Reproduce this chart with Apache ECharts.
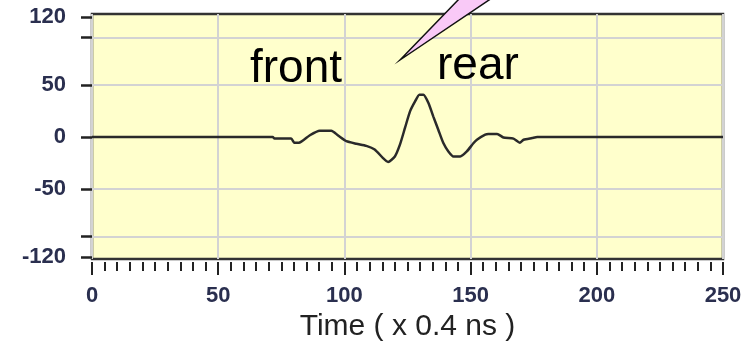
<!DOCTYPE html>
<html>
<head>
<meta charset="utf-8">
<script src="https://cdn.jsdelivr.net/npm/echarts@6/dist/echarts.min.js"></script>
<style>
  html, body { margin: 0; padding: 0; background: #fff; }
  #chart { width: 742px; height: 342px; }
</style>
</head>
<body>
<div id="chart"></div>
<script>
// signal
var times  = [0, 71.6, 72.3, 78.9, 80.2, 82, 86.2, 90.2, 94.8, 97.5, 100.8, 104.8, 108.7, 112, 115.4, 117.3,
              120, 122, 124, 126, 128, 129.7, 131.3, 133.3, 135.2, 137.2, 139.2, 141.2, 143.2, 145.9, 148.5,
              151.1, 152.5, 155.8, 157, 160.5, 163, 167, 169.5, 171, 174.4, 176.4, 250];
var values = [0, 0, -1.5, -1.5, -5.5, -5.5, 1.5, 6, 6, 1.5, -4, -6.5, -8.5, -12, -20.5, -24,
              -18.7, -7.4, 8.7, 24.7, 34.3, 40.8, 40.8, 32.8, 19.9, 7, -5.8, -13.9, -18.7, -18.7, -13.9,
              -6, -2.6, 2.2, 2.9, 2.9, -0.4, -1.6, -5.5, -2.6, -1, 0, 0];

// y axis: labelled ticks sit a bit inside the +-120 marks of the original
var yTickVals  = [-115.4, -96, -50, 0, 50, 96, 115.4];
var yLabelVals = [-115.4, -50, 0, 50, 115.4];
var yLabels    = ['-120', '-50', '0', '50', '120'];
var yGridVals  = [-96, -50, 50, 96];

var myChart = echarts.init(document.getElementById('chart'));

var pts = times.map(function (t, i) { return [t, values[i]]; });

var labelFont = {
    fontFamily: 'Liberation Sans, Arial, sans-serif',
    fontSize: 22,
    fontWeight: 'bold',
    color: '#2a2f4f'
};

var option = {
    animation: false,
    grid: {
        left: 92, right: 19, top: 14, bottom: 83,
        outerBoundsMode: 'none',
        show: true,
        backgroundColor: '#ffffcc',
        borderColor: '#333',
        borderWidth: 2.5
    },
    xAxis: {
        type: 'value',
        min: 0, max: 250, interval: 50,
        offset: 3,
        axisLine: { show: false, onZero: false },
        axisTick: { length: 13, lineStyle: { color: '#222', width: 2 } },
        minorTick: { show: true, splitNumber: 10, length: 9, lineStyle: { color: '#222', width: 2 } },
        splitLine: { show: true, lineStyle: { color: '#d3d3d3', width: 2 } },
        axisLabel: Object.assign({ margin: 23 }, labelFont),
        name: 'Time ( x 0.4 ns )',
        nameLocation: 'middle',
        nameGap: 49,
        nameTextStyle: { fontFamily: 'Liberation Sans, Arial, sans-serif', fontSize: 30, color: '#222' }
    },
    yAxis: [
        {
            type: 'value',
            min: -117.5, max: 118.5,
            offset: 6,
            axisLine: { show: false },
            axisTick: { customValues: yTickVals, length: 11, lineStyle: { color: '#222', width: 2.5 } },
            axisLabel: Object.assign({
                customValues: yLabelVals,
                margin: 20,
                formatter: function (v) {
                    var i = yLabelVals.indexOf(v);
                    return i >= 0 ? yLabels[i] : '';
                }
            }, labelFont),
            splitLine: { show: false }
        },
        {
            type: 'value',
            position: 'left',
            min: -117.5, max: 118.5,
            axisLine: { show: false },
            axisTick: { show: false, customValues: yGridVals },
            axisLabel: { show: false },
            splitLine: { show: true, lineStyle: { color: '#d3d3d3', width: 2 } }
        }
    ],
    series: [
        {
            type: 'line',
            data: pts,
            showSymbol: false,
            smooth: 0.2,
            lineStyle: { color: '#2a2a2a', width: 2.5 },
            z: 5
        }
    ],
    graphic: [
        {
            type: 'polygon',
            shape: { points: [[400, 60], [460, -2], [492, -2]] },
            style: { fill: '#f9c9f7', stroke: '#111', lineWidth: 1.5 },
            z: 100
        },
        {
            type: 'text', left: 250, top: 46,
            style: { text: 'front', fontFamily: 'Liberation Sans, Arial, sans-serif', fontSize: 46, fill: '#000' },
            z: 100
        },
        {
            type: 'text', left: 437, top: 43,
            style: { text: 'rear', fontFamily: 'Liberation Sans, Arial, sans-serif', fontSize: 46, fill: '#000' },
            z: 100
        }
    ]
};

myChart.setOption(option);
</script>
</body>
</html>
